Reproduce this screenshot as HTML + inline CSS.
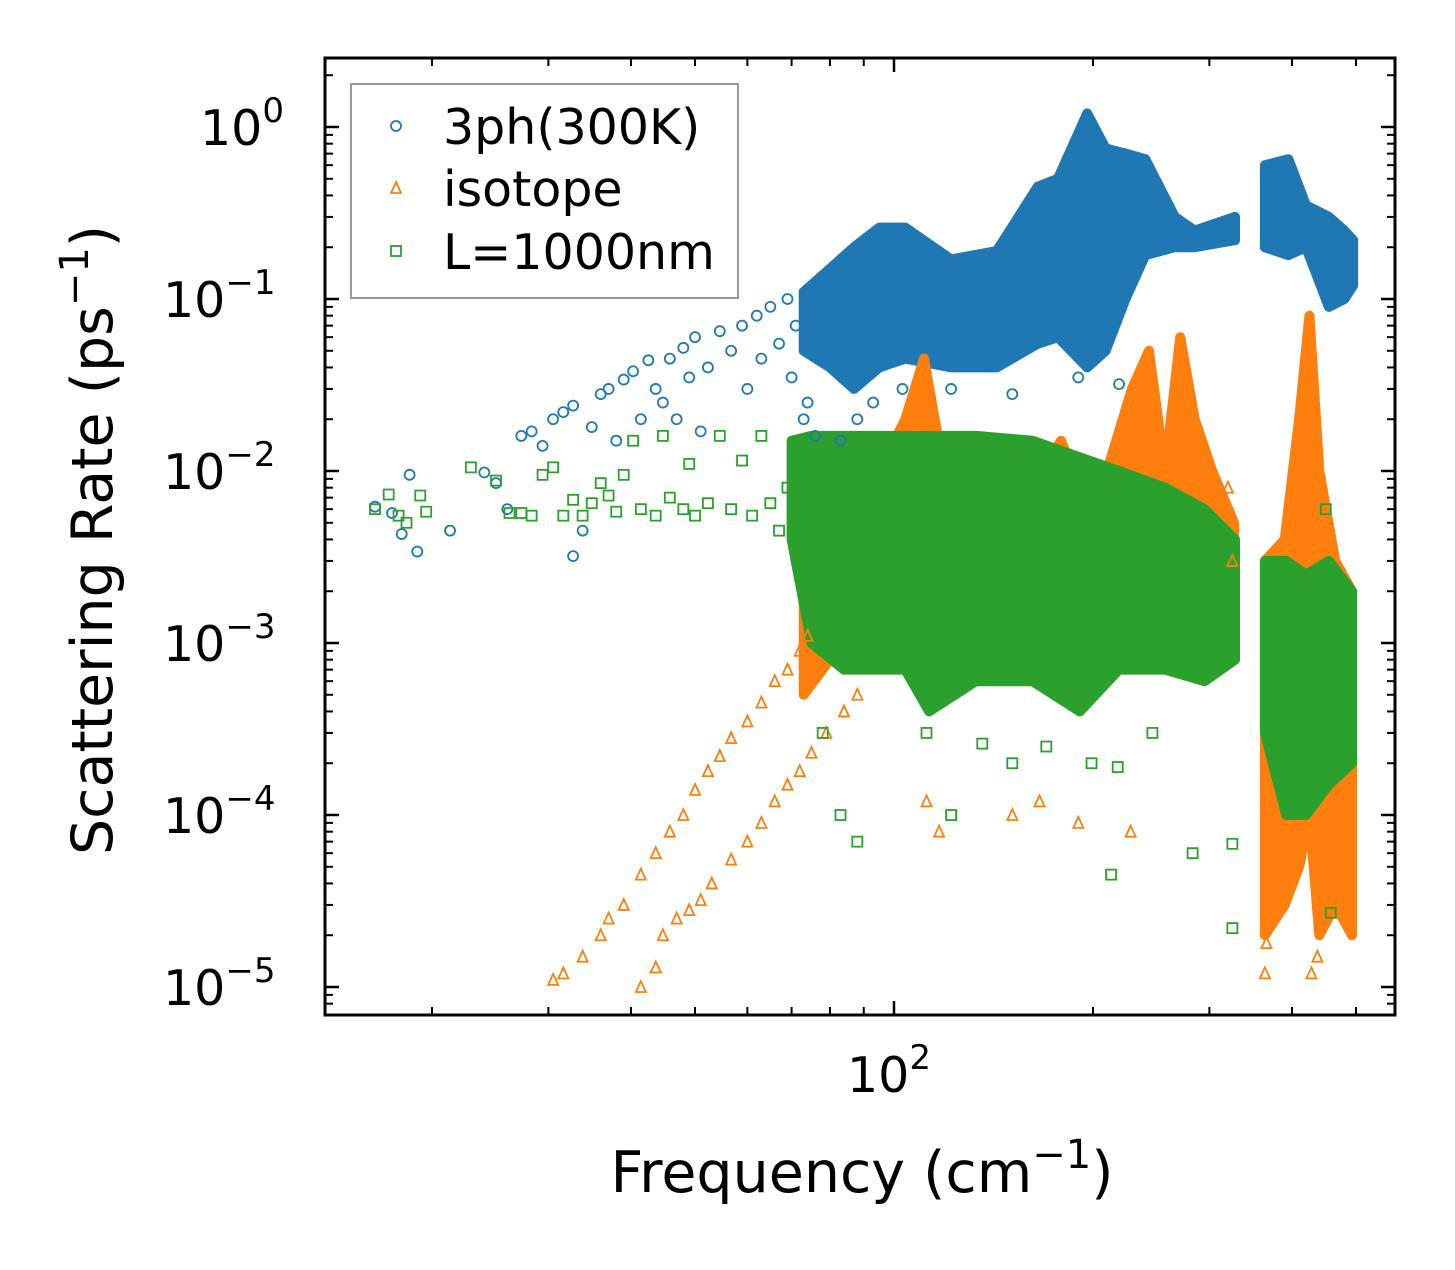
<!DOCTYPE html>
<html><head><meta charset="utf-8"><style>
html,body{margin:0;padding:0;background:#fff;}
svg text{font-family:"DejaVu Sans","Liberation Sans",sans-serif;fill:#000;}
</style></head><body>
<svg id="chart" width="1455" height="1265" viewBox="0 0 1455 1265" xmlns="http://www.w3.org/2000/svg">
<rect width="1455" height="1265" fill="#fff"/>
<g id="bands"></g>
<g id="points"></g>
<g id="axes"></g>
<rect x="325" y="58" width="1070" height="957" fill="none" stroke="#000" stroke-width="3"/>
<g>
<rect x="351" y="84" width="387" height="214" fill="#fff" stroke="#999" stroke-width="2"/>
<circle cx="396" cy="126" r="5" fill="none" stroke="#1f77b4" stroke-width="1.8"/>
<text x="443" y="144" font-size="49">3ph(300K)</text>
<polygon points="396,182 401,193 391,193" fill="none" stroke="#ff7f0e" stroke-width="1.8"/>
<text x="443" y="206" font-size="49">isotope</text>
<rect x="391" y="246" width="10" height="10" fill="none" stroke="#2ca02c" stroke-width="1.8"/>
<text x="443" y="269" font-size="49">L=1000nm</text>
</g>
<text x="862" y="1192" font-size="57" text-anchor="middle">Frequency (cm<tspan dy="-24" font-size="40">−1</tspan><tspan dy="24">)</tspan></text>
<text transform="translate(112,540) rotate(-90)" font-size="57" text-anchor="middle">Scattering Rate (ps<tspan dy="-24" font-size="40">−1</tspan><tspan dy="24">)</tspan></text>
</svg>
<script>
// ---- data ----
const blueBandF = [73,80,87,95,104,122,143,165,177,196,209,224,240,266,285,328];
const blueBandHi = [0.11,0.15,0.2,0.26,0.26,0.17,0.19,0.45,0.5,1.2,0.75,0.7,0.65,0.3,0.25,0.3];
const blueBandLo = [0.05,0.04,0.03,0.04,0.045,0.04,0.04,0.055,0.06,0.04,0.05,0.1,0.18,0.2,0.2,0.22];
const blueBand2F = [364,395,420,455,480,495];
const blueBand2Hi = [0.6,0.65,0.35,0.3,0.25,0.22];
const blueBand2Lo = [0.2,0.18,0.2,0.09,0.1,0.12];
const blueF = [16.4,17.4,18,18.5,19,21.3,24,25,26,27.3,28.3,29.4,30.5,31.6,32.7,32.7,33.8,34.9,36,37,38,39,40.3,41.4,42.5,43.6,44.7,45.8,46.9,48,49,50,51,52.3,54.5,56.7,58.9,60,62,63,65,67,69,70,71,73,74,76,83,88,93,103,122,151,190,219];
const blueR = [0.0062,0.0057,0.0043,0.0095,0.0034,0.0045,0.0098,0.0085,0.006,0.016,0.017,0.014,0.02,0.022,0.024,0.0032,0.0045,0.018,0.028,0.03,0.015,0.034,0.038,0.02,0.044,0.03,0.025,0.045,0.02,0.052,0.035,0.06,0.017,0.04,0.065,0.05,0.07,0.03,0.08,0.045,0.09,0.055,0.1,0.035,0.07,0.02,0.025,0.016,0.015,0.02,0.025,0.03,0.03,0.028,0.035,0.032];

const orBandF = [73,80,87,95,104,111,119,133,152,172,179,191,210,229,243,257,271,285,303,327];
const orBandHi = [0.002,0.004,0.008,0.01,0.02,0.045,0.01,0.008,0.01,0.012,0.015,0.008,0.01,0.03,0.05,0.01,0.06,0.02,0.01,0.005];
const orBandLo = [0.0005,0.0008,0.001,0.001,0.001,0.001,0.0008,0.001,0.001,0.0008,0.001,0.0008,0.001,0.001,0.0012,0.001,0.001,0.001,0.001,0.002];
const orBand2F = [364,390,410,425,440,465,493];
const orBand2Hi = [0.003,0.004,0.02,0.08,0.01,0.003,0.002];
const orBand2Lo = [0.00002,0.00003,0.00005,0.0001,0.00002,0.00003,0.00002];
const orF = [30.5,31.6,33.8,36,37,39,41.4,43.6,45.8,48,50,52.3,54.5,56.7,60,63,66,69,72,74,41.4,43.6,44.7,46.9,49,51,53,56.7,60,63,66,69,72,75,79,84,88,112,117,151,166,190,228,325,320,364,366,428,437];
const orR = [1.1e-5,1.2e-5,1.5e-5,2e-5,2.5e-5,3e-5,4.5e-5,6e-5,8e-5,1e-4,1.4e-4,1.8e-4,2.2e-4,2.8e-4,3.5e-4,4.5e-4,6e-4,7e-4,9e-4,1.1e-3,1e-5,1.3e-5,2e-5,2.5e-5,2.8e-5,3.2e-5,4e-5,5.5e-5,7e-5,9e-5,1.2e-4,1.5e-4,1.8e-4,2.3e-4,3e-4,4e-4,5e-4,1.2e-4,8e-5,1e-4,1.2e-4,9e-5,8e-5,0.003,0.008,1.2e-5,1.8e-5,1.2e-5,1.5e-5];

const grBandF = [70,75,84,104,113,133,162,191,219,257,295,328];
const grBandHi = [0.015,0.016,0.016,0.016,0.016,0.016,0.015,0.012,0.01,0.008,0.006,0.004];
const grBandLo = [0.004,0.001,0.0007,0.0007,0.0004,0.0006,0.0006,0.0004,0.0007,0.0007,0.0006,0.0008];
const grBand2F = [364,392,420,455,493];
const grBand2Hi = [0.003,0.003,0.0025,0.003,0.002];
const grBand2Lo = [0.0003,0.0001,0.0001,0.00015,0.0002];
const grF = [16.4,17.2,17.8,18.3,19.2,19.6,22.9,25,26.2,27.3,28.3,29.4,30.5,31.6,32.7,33.8,34.9,36,37,38,39,40.3,41.4,43.6,44.7,45.8,48,49,50,52.3,54.5,56.7,58.9,61,63,65,67,69,78,83,88,112,122,136,151,170,199,213,218,246,283,325,325,450,458];
const grR = [0.006,0.0073,0.0055,0.005,0.0072,0.0058,0.0105,0.0088,0.0057,0.0057,0.0055,0.0095,0.0105,0.0055,0.0068,0.0055,0.0065,0.0085,0.0072,0.0058,0.0095,0.015,0.006,0.0055,0.016,0.007,0.006,0.011,0.0055,0.0065,0.016,0.006,0.0115,0.0055,0.016,0.0065,0.0045,0.008,3e-4,1e-4,7e-5,3e-4,1e-4,2.6e-4,2e-4,2.5e-4,2e-4,4.5e-5,1.9e-4,3e-4,6e-5,6.8e-5,2.2e-5,6e-3,2.7e-5];

const yTickExps = [0,-1,-2,-3,-4,-5];
const xMajor = [100];
const xMinor = [20,30,40,50,60,70,80,90,200,300,400,500];

// ---- axes ----
const X0 = 894, XDEC = 661;
function xs(f){ return X0 + (Math.log10(f) - 2) * XDEC; }
const Y0 = 127, YDEC = 172;
function ys(r){ return Y0 - Math.log10(r) * YDEC; }
const NS = 'http://www.w3.org/2000/svg';
function mk(tag, parent, attrs){ const e = document.createElementNS(NS, tag); for (const k in attrs) e.setAttribute(k, attrs[k]); parent.appendChild(e); return e; }

const bands = document.getElementById('bands');
const pts = document.getElementById('points');
const axes = document.getElementById('axes');

function band(F, Hi, Lo, color, name){
  let d = '';
  F.forEach((f,i)=>{ d += (i? 'L':'M') + xs(f).toFixed(1) + ',' + ys(Hi[i]).toFixed(1); });
  for (let i = F.length-1; i >= 0; i--) d += 'L' + xs(F[i]).toFixed(1) + ',' + ys(Lo[i]).toFixed(1);
  d += 'Z';
  const p = mk('path', bands, {d: d, fill: color, stroke: color, 'stroke-width': 10, 'stroke-linejoin': 'round'});
  
  
}
function circles(F, R, name){
  F.forEach((f,i)=>{
    const c = mk('circle', pts, {cx: xs(f), cy: ys(R[i]), r: 5, fill: 'none', stroke: '#1f77b4', 'stroke-width': 1.8});
    
    
  });
}
function tris(F, R, name){
  F.forEach((f,i)=>{
    const x = xs(f), y = ys(R[i]);
    const t = mk('polygon', pts, {points: `${x},${y-6} ${x+5},${y+5} ${x-5},${y+5}`, fill: 'none', stroke: '#ff7f0e', 'stroke-width': 1.8});
    
    
  });
}
function squares(F, R, name){
  F.forEach((f,i)=>{
    const s = mk('rect', pts, {x: xs(f)-5, y: ys(R[i])-5, width: 10, height: 10, fill: 'none', stroke: '#2ca02c', 'stroke-width': 1.8});
    
    
  });
}

band(blueBandF, blueBandHi, blueBandLo, '#1f77b4', 'band-3ph-main');
band(blueBand2F, blueBand2Hi, blueBand2Lo, '#1f77b4', 'band-3ph-high');
circles(blueF, blueR, 'point-3ph');
band(orBandF, orBandHi, orBandLo, '#ff7f0e', 'band-isotope-main');
band(orBand2F, orBand2Hi, orBand2Lo, '#ff7f0e', 'band-isotope-high');
tris(orF, orR, 'point-isotope');
band(grBandF, grBandHi, grBandLo, '#2ca02c', 'band-boundary-main');
band(grBand2F, grBand2Hi, grBand2Lo, '#2ca02c', 'band-boundary-high');
squares(grF, grR, 'point-boundary');

// ticks
const L = 325, R = 1395, T = 58, B = 1015;
yTickExps.forEach(e=>{
  const y = ys(Math.pow(10, e));
  const a = mk('line', axes, {x1: L, x2: L+14, y1: y, y2: y, stroke: '#000', 'stroke-width': 2.5});
  
  
  const b = mk('line', axes, {x1: R-14, x2: R, y1: y, y2: y, stroke: '#000', 'stroke-width': 2.5});
  
  
  const t = mk('text', axes, {x: e===0 ? 200 : 163, y: y+18, 'font-size': 49});
  
  
  t.innerHTML = '10<tspan dy="-23" font-size="34">' + (e===0 ? '0' : '−' + (-e)) + '</tspan>';
});
for (let e = 1; e >= -6; e--) {
  for (let m = 2; m <= 9; m++) {
    const y = ys(m * Math.pow(10, e));
    if (y < T+2 || y > B-2) continue;
    const a = mk('line', axes, {x1: L, x2: L+8, y1: y, y2: y, stroke: '#000', 'stroke-width': 2});
    
    
    const b = mk('line', axes, {x1: R-8, x2: R, y1: y, y2: y, stroke: '#000', 'stroke-width': 2});
    
    
  }
}
xMajor.forEach(v=>{
  const x = xs(v);
  const a = mk('line', axes, {x1: x, x2: x, y1: B, y2: B-14, stroke: '#000', 'stroke-width': 2.5});
  
  
  const b = mk('line', axes, {x1: x, x2: x, y1: T, y2: T+14, stroke: '#000', 'stroke-width': 2.5});
  
  
  const t = mk('text', axes, {x: x-47, y: 1092, 'font-size': 49});
  
  
  t.innerHTML = '10<tspan dy="-23" font-size="34">2</tspan>';
});
xMinor.forEach(v=>{
  const x = xs(v);
  const a = mk('line', axes, {x1: x, x2: x, y1: B, y2: B-8, stroke: '#000', 'stroke-width': 2});
  
  
  const b = mk('line', axes, {x1: x, x2: x, y1: T, y2: T+8, stroke: '#000', 'stroke-width': 2});
  
  
});
</script>
</body></html>
